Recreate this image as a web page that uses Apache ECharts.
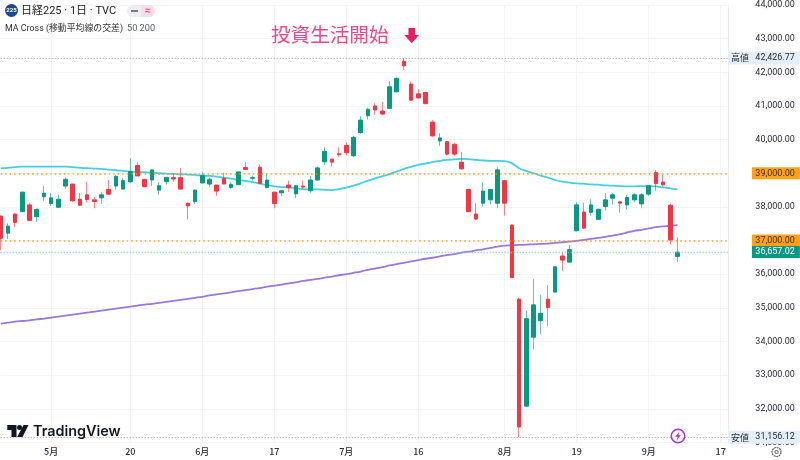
<!DOCTYPE html>
<html><head><meta charset="utf-8">
<style>html,body{margin:0;padding:0;background:#fff}#c{width:800px;height:460px}</style>
<script src="https://cdn.jsdelivr.net/npm/echarts@6/dist/echarts.min.js"></script>
</head><body><div id="c"></div>
<script>
const opens=[37730,37220,37790,37860,38060,37710,38300,38100,37990,38620,38680,38230,38360,38210,38270,38520,38620,38530,38750,39230,38820,38800,38500,38750,38870,38870,38110,38160,38710,38680,38650,38850,38580,38660,39170,38850,39180,38580,38440,38420,38650,38390,38620,38480,38800,39340,39420,39580,39830,39520,40210,40710,41000,40850,40930,41420,42330,41650,41360,41400,40520,39960,39940,39860,39330,38520,37790,38110,38210,38110,38780,37460,35260,32080,34130,34620,35260,35470,36540,36360,37290,37850,37840,37630,38010,38260,38150,38060,38210,38090,38380,39020,38740,38050,36530];
const highs=[37730,37510,37810,38450,38130,37930,38620,38410,38360,38870,38680,38420,38740,38300,38450,38800,38950,38850,39450,39330,38820,39100,38730,38880,38990,39150,38130,38520,39030,38870,38650,39020,38750,39040,39340,38930,39260,39000,38440,38500,38780,38650,38780,38920,39200,39770,39420,39770,39920,40110,40700,40950,41080,41120,41750,41850,42426.77,41730,41500,41430,40580,40190,39960,39920,39630,38540,38110,38730,38530,39180,38790,37480,35300,34920,35850,35380,35680,36230,36670,36870,38140,38130,38230,37950,38410,38420,38180,38360,38410,38410,38650,39100,38950,38090,37100];
const lows=[36720,37040,37400,37860,37600,37560,38180,38030,37960,38540,38150,38050,38130,37960,38090,38360,38510,38530,38700,38920,38600,38620,38360,38660,38750,38530,37630,38090,38710,38600,38330,38680,38540,38660,39090,38780,38700,38550,37960,38330,38450,38260,38530,38420,38770,39240,39200,39490,39530,39480,40170,40600,40740,40740,40930,41400,42070,41150,41220,41050,40090,39820,39520,39520,39110,37840,37610,38010,38070,37960,37740,35880,31156.12,32060,33770,34220,34460,35460,36090,36350,37280,37340,37740,37620,37890,38070,37830,37920,38140,37960,38330,38480,38600,36890,36360];
const closes=[37070,37430,37540,38440,37600,37930,38410,38270,38230,38820,38180,38050,38220,38160,38360,38380,38910,38780,39050,38920,38600,39100,38630,38880,38830,38530,38030,38500,38930,38820,38470,38680,38670,39040,39110,38870,38700,38800,38100,38480,38570,38630,38590,38800,39160,39650,39330,39550,39610,40070,40580,40900,40880,40760,41570,41820,42190,41170,41240,41070,40110,40050,39570,39570,39130,37860,37640,38470,38520,39100,38110,35900,31460,34680,35090,34840,35010,36220,36420,36730,38060,37370,38060,37930,38210,38360,38110,38280,38360,38360,38630,38690,38660,37020,36657.02];
const ma50=[39150,39160,39180,39200,39200,39200,39200,39200,39200,39200,39180,39160,39150,39140,39130,39110,39090,39070,39050,39040,39030,39020,39000,38990,38980,38970,38960,38950,38930,38920,38900,38870,38840,38800,38770,38740,38690,38650,38610,38590,38580,38550,38530,38520,38520,38510,38500,38530,38570,38630,38700,38780,38850,38910,38970,39050,39130,39190,39250,39290,39330,39370,39400,39410,39430,39420,39400,39380,39370,39370,39360,39300,39150,39070,39000,38930,38870,38800,38750,38720,38700,38690,38670,38660,38640,38630,38620,38610,38610,38620,38620,38610,38580,38550,38520];
const ma200=[34530,34560,34590,34610,34630,34660,34680,34710,34740,34770,34800,34830,34860,34890,34920,34950,34980,35010,35040,35070,35100,35120,35150,35180,35210,35240,35270,35300,35330,35370,35400,35430,35460,35500,35530,35560,35590,35630,35660,35690,35730,35760,35800,35830,35860,35900,35930,35970,36000,36040,36080,36130,36170,36210,36260,36300,36340,36380,36420,36460,36490,36530,36570,36600,36640,36670,36710,36740,36780,36820,36850,36860,36870,36880,36890,36900,36910,36930,36950,36970,36990,37020,37050,37080,37110,37150,37190,37240,37290,37320,37360,37400,37420,37440,37460];
const tickIndex=[7,18,28,38,48,58,70,80,90,100];
const tickLabels=['5月','20','6月','17','7月','16','8月','19','9月','17'];
const slotCount=102;
const highPrice=42426.77, lowPrice=31156.12, lastPrice=36657.02;
const levelA=39000, levelB=37000;

const GREEN='#089981', RED='#f23645', ORANGE='#ff9800';
const CJK='"Noto Sans CJK JP","Noto Sans",sans-serif';
const NUM='Roboto,"Noto Sans",sans-serif';
const MIX='Roboto,"Noto Sans CJK JP",sans-serif';
const fmt=v=>v.toLocaleString('en-US',{minimumFractionDigits:2,maximumFractionDigits:2});
const slots=Array.from({length:slotCount},(_,i)=>String(i));
const tickOf=i=>tickIndex.indexOf(i);
const wickData=opens.map((o,i)=>[o,closes[i],lows[i],highs[i]]);
const bodyData=opens.map((o,i)=>{const c=closes[i];return [o,c,Math.min(o,c),Math.max(o,c)];});

const tag=(value,bg,color)=>({
  yAxis:value,
  lineStyle:{color:bg,type:[1.5,3],width:1.6,opacity:.9},
  label:{show:true,position:'end',distance:24,formatter:'{v|'+fmt(value)+'}',
    rich:{v:{backgroundColor:bg,color:color,fontFamily:NUM,fontSize:9,width:43,height:12,lineHeight:12,align:'right',padding:[0,5,0,0]}}}
});
const extreme=(value,name)=>({
  yAxis:value,
  lineStyle:{color:'#9a9ea8',type:[1,2],width:1},
  label:{show:true,position:'end',distance:0,formatter:'{a|'+name+'}{b|'+fmt(value)+'}',
    rich:{
      a:{backgroundColor:'#e4eefa',color:'#2a2e39',fontFamily:CJK,fontSize:9,width:24,height:13,lineHeight:13,align:'center'},
      b:{backgroundColor:'#e4eefa',color:'#2a2e39',fontFamily:NUM,fontSize:9,width:43,height:13,lineHeight:13,align:'right',padding:[0,5,0,0]}
    }}
});

const chart=echarts.init(document.getElementById('c'),null,{renderer:'canvas'});
chart.setOption({
  animation:false,
  backgroundColor:'#fff',
  grid:{left:0.7,right:72.1,top:5,height:437.5,containLabel:false},
  xAxis:{type:'category',data:slots,boundaryGap:false,
    axisLine:{show:false},axisTick:{show:false},
    splitLine:{show:true,interval:(i)=>tickOf(i)>=0,lineStyle:{color:'#f2f3f5',width:1}},
    axisLabel:{interval:(i)=>tickOf(i)>=0,formatter:(v,i)=>tickLabels[tickOf(i)]||'',margin:5,color:'#2a2e39',fontFamily:CJK,fontSize:9,fontWeight:500}
  },
  yAxis:{type:'value',position:'right',min:31000,max:44000,interval:1000,scale:true,
    axisLine:{show:true,lineStyle:{color:'#eceef1'}},axisTick:{show:false},
    splitLine:{show:true,lineStyle:{color:'#f3f4f6',width:1}},
    axisLabel:{align:'right',margin:67,color:'#2a2e39',fontFamily:NUM,fontSize:9,formatter:v=>fmt(v)}
  },
  series:[
    {type:'line',name:'MA200',data:ma200,showSymbol:false,symbol:'none',z:2,smooth:0.3,
      lineStyle:{color:'#9c78d8',width:1.8}},
    {type:'line',name:'MA50',data:ma50,showSymbol:false,symbol:'none',z:2,smooth:0.3,
      lineStyle:{color:'#45cfe0',width:1.8},
      markLine:{silent:true,symbol:'none',animation:false,
        data:[extreme(highPrice,'高値'),extreme(lowPrice,'安値'),
          tag(levelA,ORANGE,'#3a2a00'),tag(levelB,ORANGE,'#3a2a00'),
          {yAxis:lastPrice,lineStyle:{color:'#7fcdbf',type:[1,2],width:1.3},
           label:{show:true,position:'end',distance:24,formatter:'{v|'+fmt(lastPrice)+'}',
             rich:{v:{backgroundColor:GREEN,color:'#fff',fontFamily:NUM,fontSize:9,width:43,height:12,lineHeight:12,align:'right',padding:[0,5,0,0]}}}}
        ]}},
    {type:'candlestick',name:'wick',data:wickData,barWidth:1,clip:false,z:3,
      itemStyle:{color:'rgba(8,153,129,.6)',color0:'rgba(242,54,69,.6)',borderColor:'rgba(8,153,129,.6)',borderColor0:'rgba(242,54,69,.6)',borderWidth:1}},
    {type:'candlestick',name:'body',data:bodyData,barWidth:4,clip:false,z:4,
      itemStyle:{color:GREEN,color0:RED,borderColor:GREEN,borderColor0:RED,borderWidth:1}}
  ],
  graphic:[
    {type:'circle',shape:{cx:11.5,cy:10.5,r:6.5},style:{fill:'#1e4a8a'},z:20},
    {type:'text',style:{x:11.5,y:10.5,text:'225',fill:'#fff',fontSize:6,fontFamily:NUM,fontWeight:700,align:'center',verticalAlign:'middle'},z:21},
    {type:'text',style:{x:21,y:10.8,text:'日経225 · 1日 · TVC',fill:'#222',fontSize:11,fontFamily:MIX,verticalAlign:'middle'},z:20},
    {type:'rect',shape:{x:127,y:5,width:28,height:12,r:6},style:{fill:'#eceef1'},z:20},
    {type:'rect',shape:{x:141,y:5,width:14,height:12,r:[0,6,6,0]},style:{fill:'#fbdce8'},z:21},
    {type:'rect',shape:{x:131,y:10,width:7,height:2},style:{fill:'#787b86'},z:22},
    {type:'text',style:{x:147.5,y:11,text:'≈',fill:'#ec407a',fontSize:11,fontFamily:NUM,align:'center',verticalAlign:'middle'},z:22},
    {type:'text',style:{x:5,y:28.5,text:'MA Cross (移動平均線の交差)',fill:'#333',fontSize:8.9,fontFamily:MIX,verticalAlign:'middle'},z:20},
    {type:'text',style:{x:127,y:28.5,text:'50 200',fill:'#5d606b',fontSize:9.2,fontFamily:NUM,verticalAlign:'middle'},z:20},
    {type:'text',style:{x:271,y:35,text:'投資生活開始',fill:'#ec4a86',fontSize:19.6,fontFamily:CJK,verticalAlign:'middle'},z:20},
    {type:'polygon',shape:{points:[[408.5,28],[415,28],[415,35],[419,35],[411.7,43.3],[404.3,35],[408.5,35]]},style:{fill:'#e91e63'},z:20},
    {type:'polygon',shape:{points:[[7.3,425],[16.5,425],[16.5,437],[11.5,437],[11.5,430],[7.3,430]]},style:{fill:'#131722'},z:20},
    {type:'circle',shape:{cx:19.5,cy:427.5,r:2.5},style:{fill:'#131722'},z:20},
    {type:'polygon',shape:{points:[[23.5,425],[28.5,425],[22.5,437],[17.2,437]]},style:{fill:'#131722'},z:20},
    {type:'text',style:{x:33,y:431.3,text:'TradingView',fill:'#131722',fontSize:14.4,fontFamily:'Inter,Roboto,sans-serif',fontWeight:600,verticalAlign:'middle'},z:20},
    {type:'circle',shape:{cx:678,cy:436,r:6.7},style:{fill:'#fff',stroke:'#a335c9',lineWidth:1.5},z:20},
    {type:'polygon',shape:{points:[[679.5,431.5],[675.3,436.8],[677.7,436.8],[676.5,440.5],[680.8,435.2],[678.4,435.2]]},style:{fill:'#a335c9'},z:21},
    {type:'circle',shape:{cx:776.5,cy:452,r:4.5},style:{fill:'#fff',stroke:'#5a5e68',lineWidth:1.2,lineDash:[2,.6]},z:20},
    {type:'circle',shape:{cx:776.5,cy:452,r:1.6},style:{fill:'#fff',stroke:'#5a5e68',lineWidth:1},z:21}
  ]
});
</script></body></html>
